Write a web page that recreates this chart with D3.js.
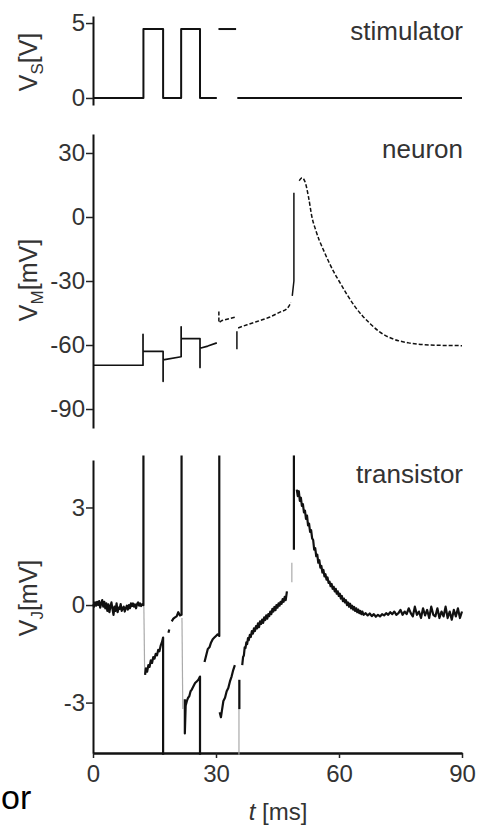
<!DOCTYPE html>
<html><head><meta charset="utf-8">
<script src="https://cdn.jsdelivr.net/npm/d3@7/dist/d3.min.js"></script>
<style>
html,body{margin:0;padding:0;background:#fff;}
svg{display:block;}
text{font-family:"Liberation Sans",Arial,sans-serif;}
</style></head>
<body>
<svg id="chart" width="478" height="827"></svg>
<script>
// ---------------- data ----------------
const timeTicks = [0, 30, 60, 90];
const stimTicks = [0, 5];
const neuronTicks = [30, 0, -30, -60, -90];
const transTicks = [3, 0, -3];
const panelNames = ["stimulator", "neuron", "transistor"];

// stimulator voltage [t (ms), V]
const stimSeg1 = [[0,0],[12.3,0],[12.3,4.6],[17.1,4.6],[17.1,0],[21.5,0],[21.5,4.6],[26.1,4.6],[26.1,0],[30.2,0]];
const stimSeg2 = [[30.6,4.6],[34.9,4.6]];
const stimSeg3 = [[35.2,0],[90,0]];

// neuron membrane voltage [t, mV]
const neuronSteps = [[0,-69.5],[12.2,-69.5],[12.2,-55],[12.2,-63],[17.1,-63],[17.1,-77],[17.1,-67],[21.5,-65.5],[21.5,-51.5],[21.5,-57],[26.1,-57],[26.1,-70.5],[26.1,-61.5],[28,-60.5],[30.2,-59]];
const neuronThird = [[30.7,-44.3],[30.7,-49.5],[31.5,-48.5],[34.6,-47]];
const neuronJump = [[35.1,-62],[35.1,-53.5]];
const neuronRise = [[35.4,-52],[37.6,-50.5],[40,-49],[43,-47],[45.6,-44.6],[47.3,-43],[48.3,-40]];
const neuronUp = [[48.6,-37],[49.0,-30],[49.0,11.4]];
const neuronDecay = [[50.3,17],[51.0,18.4],[51.8,16],[52.6,9],[53.4,0],[54.3,-6],[55.2,-11],[56.1,-15],[57.5,-21],[58.8,-26],[60,-30],[62,-36.5],[63.9,-42],[65.8,-46.5],[67.6,-50],[70,-54],[73.7,-57.5],[77,-59],[82.2,-60],[90,-60.3]];

// transistor voltage [t, mV]
const transBase = [[0,0.02],[0.25,-0.05],[0.5,0.08],[0.75,-0.02],[1,0.1],[1.25,0.0],[1.5,0.12],[1.75,-0.08],[2,0.05],[2.25,0.15],[2.5,-0.05],[2.75,0.1],[3,-0.1],[3.25,0.05],[3.5,-0.18],[3.75,0.02],[4,-0.22],[4.25,-0.05],[4.5,0.08],[4.75,-0.12],[5,-0.3],[5.25,-0.05],[5.5,-0.18],[5.75,0.05],[6,-0.22],[6.25,-0.08],[6.5,-0.12],[6.75,0.03],[7,-0.18],[7.25,-0.1],[7.5,-0.05],[7.75,-0.2],[8,-0.1],[8.25,-0.02],[8.5,-0.14],[8.75,0.0],[9,-0.1],[9.25,0.05],[9.5,-0.03],[9.75,0.05],[10,-0.05],[10.25,0.02],[10.5,-0.1],[10.75,0.03],[11,0.08],[11.25,-0.02],[11.5,0.05],[11.75,-0.03],[12,0.02],[12.3,0.0],[12.3,4.6]];
const transSeg2 = [[12.7,-2.15],[12.9,-1.95],[13.2,-2.05],[13.5,-1.85],[13.8,-1.9],[14.1,-1.7],[14.4,-1.78],[14.7,-1.6],[15.0,-1.65],[15.3,-1.5],[15.6,-1.55],[15.9,-1.38],[16.2,-1.42],[16.5,-1.25],[16.8,-1.15],[17.0,-1.05],[17.1,-1.0],[17.1,-4.6]];
const transSeg3a = [[18.4,-0.85],[18.6,-0.75]];
const transSeg3 = [[19.2,-0.5],[19.6,-0.42],[20.0,-0.38],[20.4,-0.35],[20.8,-0.22],[21.2,-0.32],[21.6,-0.3],[21.6,4.6]];
const transSeg4 = [[22.4,-2.9],[22.4,-3.95],[22.6,-3.1],[22.9,-2.95],[23.2,-2.85],[23.5,-2.8],[23.8,-2.65],[24.1,-2.6],[24.5,-2.5],[24.9,-2.4],[25.3,-2.35],[25.7,-2.3],[26.1,-2.2],[26.1,-4.6]];
const transSeg5 = [[27.2,-1.75],[27.6,-1.55],[28.0,-1.35],[28.4,-1.3],[28.8,-1.15],[29.2,-1.05],[29.6,-1.0],[30.0,-0.95],[30.4,-0.9],[30.8,-0.95],[30.8,4.6]];
const transSeg6 = [[30.9,-3.3],[31.2,-3.45],[31.5,-3.2],[31.8,-2.95],[32.2,-2.85],[32.6,-2.65],[33.0,-2.55],[33.4,-2.35],[33.8,-2.2],[34.2,-2.0],[34.6,-1.85]];
const transSeg7 = [[35.7,-2.3],[35.7,-3.2]];
const transSeg8 = [[36.4,-1.85],[36.6,-1.6],[36.8,-1.55],[37.0,-1.3],[37.2,-1.32],[37.4,-1.15],[37.6,-1.2],[37.8,-1.02],[38.0,-1.08],[38.25,-0.92],[38.5,-0.98],[38.75,-0.8],[39.0,-0.88],[39.25,-0.72],[39.5,-0.8],[39.75,-0.65],[40.0,-0.72],[40.25,-0.56],[40.5,-0.68],[40.75,-0.5],[41.0,-0.58],[41.25,-0.45],[41.5,-0.55],[41.75,-0.38],[42.0,-0.46],[42.25,-0.32],[42.5,-0.42],[42.75,-0.28],[43.0,-0.34],[43.25,-0.2],[43.5,-0.28],[43.75,-0.12],[44.0,-0.2],[44.25,-0.06],[44.5,-0.16],[44.75,0.0],[45.0,-0.08],[45.25,0.05],[45.5,-0.02],[45.75,0.1],[46.0,0.04],[46.25,0.18],[46.5,0.1],[46.75,0.25],[47.0,0.15],[47.3,0.42]];
const transSpike = [[49.0,1.7],[49.0,4.6]];
const transDecay = [[49.7,3.55],[49.95,3.35],[50.2,3.5],[50.45,3.2],[50.7,3.3],[50.95,3.05],[51.2,3.1],[51.45,2.85],[51.7,2.9],[51.95,2.65],[52.2,2.75],[52.45,2.45],[52.7,2.5],[52.95,2.25],[53.2,2.3],[53.45,2.05],[53.7,2.0],[53.95,1.7],[54.2,1.75],[54.45,1.5],[54.7,1.55],[54.95,1.3],[55.2,1.38],[55.45,1.15],[55.7,1.2],[55.95,1.0],[56.2,1.08],[56.45,0.88],[56.7,0.95],[56.95,0.78],[57.2,0.85],[57.45,0.68],[57.7,0.72],[57.95,0.58],[58.2,0.65],[58.45,0.5],[58.7,0.56],[58.95,0.42],[59.2,0.5],[59.45,0.35],[59.7,0.42],[59.95,0.28],[60.2,0.35],[60.45,0.2],[60.7,0.28],[60.95,0.12],[61.2,0.2],[61.45,0.08],[61.7,0.15],[61.95,0.0],[62.2,0.08],[62.45,-0.05],[62.7,0.04],[62.95,-0.1],[63.2,-0.02],[63.45,-0.14],[63.7,-0.06],[63.95,-0.18],[64.2,-0.1],[64.45,-0.22],[64.7,-0.14],[64.95,-0.25],[65.2,-0.18],[65.45,-0.28],[65.7,-0.2],[66,-0.3],[66.5,-0.25],[67,-0.32],[67.5,-0.26],[68,-0.34],[68.5,-0.28],[69,-0.36],[69.5,-0.3],[70,-0.35],[70.5,-0.28],[71,-0.32],[71.5,-0.25],[72,-0.3],[72.5,-0.22],[73,-0.28],[73.5,-0.2],[74,-0.3],[74.5,-0.25],[75,-0.15],[75.5,-0.3],[76,-0.2],[76.5,-0.28],[77,-0.1],[77.5,-0.25],[78,-0.35],[78.5,-0.05],[79,-0.3],[79.5,-0.2],[80,-0.4],[80.5,-0.1],[81,-0.32],[81.5,-0.15],[82,-0.4],[82.5,-0.05],[83,-0.3],[83.5,-0.35],[84,-0.1],[84.5,-0.4],[85,-0.2],[85.5,-0.35],[86,-0.05],[86.5,-0.4],[87,-0.2],[87.5,-0.45],[88,-0.15],[88.5,-0.35],[89,-0.1],[89.5,-0.4],[90,-0.2]];
// faint grey transition lines
const transGrey = [
  [[12.4,0.0],[12.6,-2.1]],
  [[21.7,-0.4],[21.9,-3.2]],
  [[35.6,-2.3],[35.6,-4.6]],
  [[48.5,0.7],[48.5,1.3]]
];

// ---------------- drawing ----------------
const svg = d3.select("#chart");
const x = d3.scaleLinear().domain([0, 90]).range([93, 462]);
const yStim = d3.scaleLinear().domain([-0.47, 5.47]).range([105, 16]);
const yNeur = d3.scaleLinear().domain([-98.9, 38.9]).range([428, 134]);
const yTran = d3.scaleLinear().domain([-4.55, 4.46]).range([753, 460]);

const fmt = d => String(d);
function yAxis(scale, ticks) {
  const g = svg.append("g").attr("transform", `translate(${x(0)},0)`)
    .call(d3.axisLeft(scale).tickValues(ticks).tickSize(7).tickSizeOuter(0).tickPadding(1).tickFormat(fmt));
  g.select(".domain").attr("stroke", "#111").attr("stroke-width", 2);
  g.selectAll(".tick line").attr("stroke", "#222").attr("stroke-width", 1.5);
  g.selectAll(".tick text").attr("font-size", 24).attr("fill", "#333")
    .attr("font-family", "Liberation Sans, Arial, sans-serif");
  return g;
}
yAxis(yStim, stimTicks);
yAxis(yNeur, neuronTicks);
yAxis(yTran, transTicks);

const gx = svg.append("g").attr("transform", `translate(0,${yTran(-4.55)})`)
  .call(d3.axisBottom(x).tickValues(timeTicks).tickSize(5).tickSizeOuter(0).tickPadding(7).tickFormat(fmt));
gx.select(".domain").attr("stroke", "#111").attr("stroke-width", 2.5);
gx.selectAll(".tick line").attr("stroke", "#222").attr("stroke-width", 1.5);
gx.selectAll(".tick text").attr("font-size", 24).attr("fill", "#333")
  .attr("font-family", "Liberation Sans, Arial, sans-serif");

function draw(data, yScale, opts) {
  const line = d3.line().x(d => x(d[0])).y(d => yScale(d[1]));
  if (opts.smooth) line.curve(d3.curveMonotoneX);
  svg.append("path").datum(data).attr("d", line)
    .attr("fill", "none")
    .attr("stroke", opts.color || "#111")
    .attr("stroke-width", opts.width || 2)
    .attr("stroke-dasharray", opts.dash || null)
    .attr("stroke-linejoin", "round");
}

[stimSeg1, stimSeg2, stimSeg3].forEach(s => draw(s, yStim, {width: 2}));

draw(neuronSteps, yNeur, {width: 1.7});
draw(neuronThird, yNeur, {width: 1.5, dash: "4,2"});
draw(neuronJump, yNeur, {width: 1.5});
draw(neuronRise, yNeur, {width: 1.5, dash: "4,2", smooth: true});
draw(neuronUp, yNeur, {width: 1.5});
draw(neuronDecay, yNeur, {width: 1.5, dash: "4,2", smooth: true});

transGrey.forEach(s => draw(s, yTran, {width: 1.2, color: "#aaa"}));
[transBase, transSeg2, transSeg3a, transSeg3, transSeg4, transSeg5, transSeg6, transSeg7, transSeg8, transSpike, transDecay]
  .forEach(s => draw(s, yTran, {width: 2.2}));

// panel names
const nameY = [40, 158, 483];
panelNames.forEach((n, i) => {
  svg.append("text").attr("x", 463).attr("y", nameY[i]).attr("text-anchor", "end")
    .attr("font-size", 26).attr("fill", "#333").text(n);
});

// axis titles
function yTitle(cy, sub, unit) {
  const t = svg.append("text").attr("transform", `translate(37,${cy}) rotate(-90)`)
    .attr("text-anchor", "middle").attr("font-size", 25).attr("fill", "#333");
  t.append("tspan").text("V");
  t.append("tspan").attr("font-size", 17).attr("dy", 6).text(sub);
  t.append("tspan").attr("dy", -6).text(unit);
}
yTitle(62, "S", "[V]");
yTitle(280, "M", "[mV]");
yTitle(598, "J", "[mV]");

const xt = svg.append("text").attr("x", 278).attr("y", 820).attr("text-anchor", "middle")
  .attr("font-size", 24).attr("fill", "#333");
xt.append("tspan").attr("font-style", "italic").text("t");
xt.append("tspan").text(" [ms]");

svg.append("text").attr("x", 1).attr("y", 809).attr("text-anchor", "start")
  .attr("font-size", 34).attr("fill", "#000").attr("font-family", "DejaVu Sans, sans-serif").text("or");
</script>
</body></html>
